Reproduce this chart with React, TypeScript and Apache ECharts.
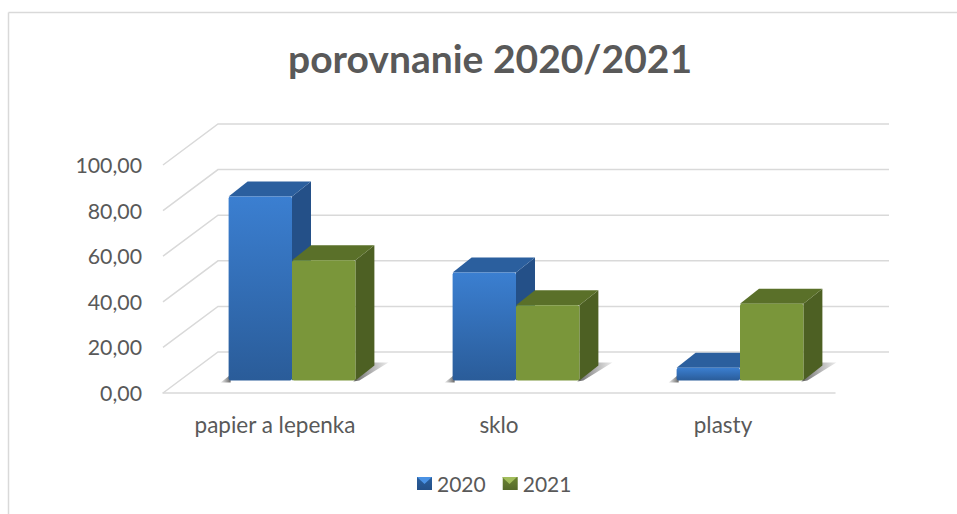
import React, { useEffect, useRef } from "react";
import * as echarts from "echarts";

const categories = ["papier a lepenka", "sklo", "plasty"];
const values2020 = [80.7, 47.4, 5.6];
const values2021 = [52.7, 33, 33.7];
const yTicks = [0, 20, 40, 60, 80, 100];

const FONT = "Lato, Carlito, sans-serif";
const TEXT = "#595959";
const GRID = "#d9d9d9";
const WALL_DX = 55;
const WALL_DY = -41;
const BAR_DX = 17;
const BAR_DY = -12.5;
const SIDE_DX = 19;
const SIDE_DY = -15;

const grad = (a: string, b: string) =>
  new echarts.graphic.LinearGradient(0, 0, 0, 1, [
    { offset: 0, color: a },
    { offset: 1, color: b },
  ]);

const shadowFill = (fromRight: boolean) =>
  new echarts.graphic.LinearGradient(fromRight ? 0 : 1, 0, fromRight ? 1 : 0, 0, [
    { offset: 0, color: "rgba(50,50,50,0.75)" },
    { offset: 1, color: "rgba(90,90,90,0.12)" },
  ]);

function wallItem(params: any, api: any) {
  const cs = params.coordSys;
  const y = api.coord([0, api.value(1)])[1];
  const pts = [
    [cs.x, y],
    [cs.x + WALL_DX, y + WALL_DY],
    [cs.x + cs.width + WALL_DX - 1, y + WALL_DY],
  ];
  return {
    type: "polyline",
    shape: { points: pts },
    style: { fill: "none", stroke: GRID, lineWidth: 1.5 },
    silent: true,
  };
}

function barRender(which: number, colors: any) {
  return (_params: any, api: any) => {
    const idx = api.value(0);
    const v = api.value(1);
    const base = api.coord([idx, 0]);
    const top = api.coord([idx, v]);
    const w = api.size([1, 0])[0] * 0.283;
    const x0 = base[0] + BAR_DX + (which === 0 ? -w : 0);
    const x1 = x0 + w;
    const yb = base[1] + BAR_DY;
    const yt = top[1] + BAR_DY;
    const shadowPts =
      which === 0
        ? [
            [x0 - 8, yb + 2],
            [x0 + 2, yb + 2],
            [x0 + 2, yb - 5],
            [x0 + 1, yb - 5],
          ]
        : [
            [x1 - 2, yb + 1],
            [x1 + 4, yb],
            [x1 + 33, yb - 18],
            [x1 + 14, yb - 18],
          ];
    const children: any[] = [
      {
        type: "polygon",
        shape: { points: shadowPts },
        style: { fill: shadowFill(which === 1) },
      },
      {
        type: "polygon",
        shape: {
          points: [
            [x1, yt],
            [x1 + SIDE_DX, yt + SIDE_DY],
            [x1 + SIDE_DX, yb + SIDE_DY],
            [x1, yb],
          ],
        },
        style: { fill: colors.side },
      },
      {
        type: "polygon",
        shape: {
          points: [
            [x0, yt],
            [x0 + SIDE_DX, yt + SIDE_DY],
            [x1 + SIDE_DX, yt + SIDE_DY],
            [x1, yt],
          ],
        },
        style: { fill: colors.top },
      },
      {
        type: "rect",
        shape: { x: x0, y: yt, width: w, height: yb - yt, r: 2 },
        style: { fill: colors.front },
      },
    ];
    return { type: "group", children };
  };
}

export default function App() {
  const ref = useRef<HTMLDivElement>(null);
  useEffect(() => {
    if (!ref.current) return;
    const chart = echarts.init(ref.current, undefined, { renderer: "svg" });
    const blue = { front: grad("#3b7fd1", "#2a5c99"), side: "#245088", top: "#2b5f9e" };
    const green = { front: "#7a963a", side: "#4d6023", top: "#5a7029" };
    chart.setOption({
      animation: false,
      backgroundColor: "#ffffff",
      title: {
        text: "porovnanie 2020/2021",
        left: 485,
        top: 33,
        textAlign: "center",
        textStyle: { fontFamily: FONT, fontSize: 39, fontWeight: "bold", color: TEXT },
      },
      grid: { left: 163, right: 122, top: 165, bottom: 121 },
      xAxis: {
        type: "category",
        data: categories,
        axisTick: { show: false },
        axisLine: { lineStyle: { color: GRID, width: 1.5 } },
        axisLabel: { margin: 20, fontFamily: FONT, fontSize: 22.5, color: TEXT },
        splitLine: { show: false },
      },
      yAxis: {
        type: "value",
        min: 0,
        max: 100,
        interval: 20,
        axisLine: { show: false },
        axisTick: { show: false },
        splitLine: { show: false },
        axisLabel: {
          margin: 21,
          fontFamily: FONT,
          fontSize: 21.3,
          color: TEXT,
          padding: [3, 0, 0, 0],
          formatter: (v: number) => v.toFixed(2).replace(".", ","),
        },
      },
      legend: {
        left: 412,
        top: 468,
        itemWidth: 15,
        itemHeight: 13,
        itemGap: 17,
        textStyle: { fontFamily: FONT, fontSize: 21, color: TEXT },
        data: [
          { name: "2020", icon: "rect", itemStyle: { color: grad("#2a5f9e", "#245088") } },
          { name: "2021", icon: "rect", itemStyle: { color: grad("#6b8432", "#55692a") } },
        ],
      },
      graphic: [
        { type: "line", shape: { x1: 8.5, y1: 12.5, x2: 957, y2: 12.5 }, style: { stroke: GRID, lineWidth: 1.5 } },
        { type: "line", shape: { x1: 8.5, y1: 12.5, x2: 8.5, y2: 514 }, style: { stroke: GRID, lineWidth: 1.5 } },
        {
          type: "polygon",
          z: 100,
          shape: { points: [[417, 477], [432, 477], [424.5, 484]] },
          style: { fill: "#4a92e4" },
        },
        {
          type: "polygon",
          z: 100,
          shape: { points: [[502, 477], [517, 477], [509.5, 484]] },
          style: { fill: "#a2bd5c" },
        },
      ],
      series: [
        {
          type: "custom",
          name: "walls",
          silent: true,
          z: 1,
          data: yTicks.map((v) => [0, v]),
          encode: { x: 0, y: 1 },
          renderItem: wallItem,
        },
        {
          type: "custom",
          name: "2020",
          z: 2,
          itemStyle: { color: "#2f6db5" },
          data: values2020.map((v, i) => [i, v]),
          encode: { x: 0, y: 1 },
          renderItem: barRender(0, blue),
        },
        {
          type: "custom",
          name: "2021",
          z: 3,
          itemStyle: { color: "#7a963a" },
          data: values2021.map((v, i) => [i, v]),
          encode: { x: 0, y: 1 },
          renderItem: barRender(1, green),
        },
      ],
    });
    return () => chart.dispose();
  }, []);
  return (
    <div
      ref={ref}
      style={{ position: "absolute", left: 0, top: 0, width: 957, height: 514 }}
    />
  );
}
